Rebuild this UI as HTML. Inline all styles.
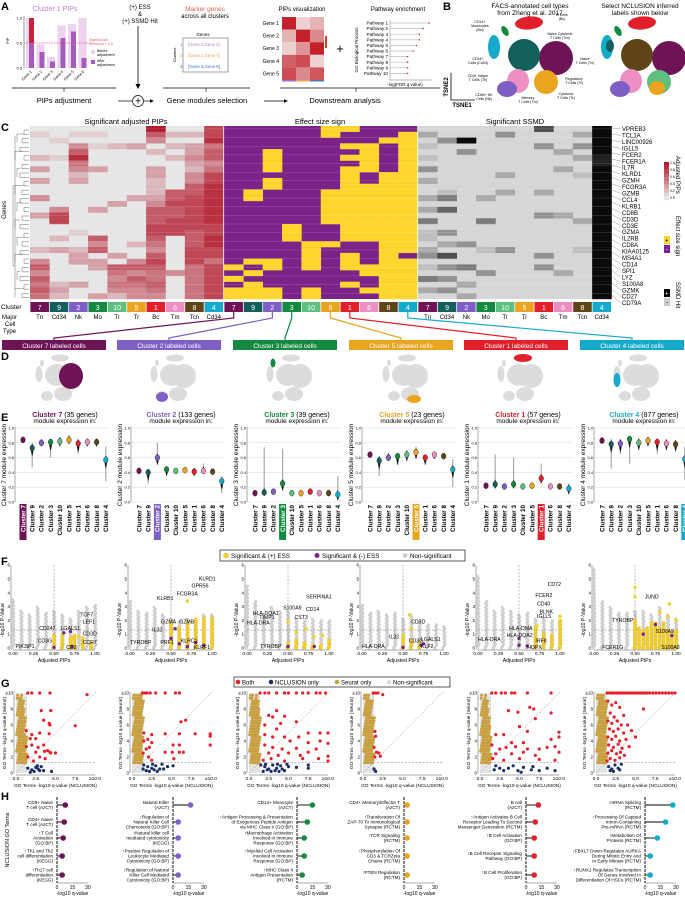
<!DOCTYPE html>
<html><head><meta charset="utf-8"><style>
html,body{margin:0;padding:0;background:#fff}
svg{display:block;font-family:"Liberation Sans",Arial,sans-serif}
</style></head><body>
<svg id="fig" width="685" height="900" viewBox="0 0 685 900" xmlns="http://www.w3.org/2000/svg">
<g font-weight="bold" font-size="11">
<text x="1" y="10">A</text>
<text x="443" y="10">B</text>
<text x="1" y="131">C</text>
<text x="1" y="360">D</text>
<text x="1" y="421">E</text>
<text x="1" y="565">F</text>
<text x="1" y="687">G</text>
<text x="1" y="800">H</text>
</g>
<g>
<text x="55" y="11" font-size="7" fill="#c77dd6" text-anchor="middle">Cluster 1 PIPs</text>
<text x="140" y="9" font-size="6" text-anchor="middle">(+) ESS</text>
<text x="140" y="16" font-size="6" text-anchor="middle">&amp;</text>
<text x="140" y="23" font-size="6" text-anchor="middle">(+) SSMD Hit</text>
<line x1="138" y1="26" x2="138" y2="86" stroke="#000" stroke-width="0.8"/>
<path d="M135.5,84 L138,89 L140.5,84Z"/>
<text x="205" y="11" font-size="6.5" fill="#f0604a" text-anchor="middle">Marker genes</text>
<text x="205" y="18" font-size="6" text-anchor="middle">across all clusters</text>
<text x="203" y="36" font-size="4.5" text-anchor="middle">Genes</text>
<rect x="183" y="38" width="45" height="34" fill="none" stroke="#666" stroke-width="0.6"/>
<text x="188" y="46" font-size="4.3" fill="#b07cd8">[Gene 1,Gene 5]</text>
<text x="188" y="57" font-size="4.3" fill="#f0a040">[Gene 2,Gene 4]</text>
<text x="188" y="68" font-size="4.3" fill="#3a6cc8">[Gene 3,Gene 5]</text>
<text x="180" y="46" font-size="4.5" fill="#b07cd8">1</text>
<text x="180" y="57" font-size="4.5" fill="#f0a040">2</text>
<text x="180" y="68" font-size="4.5" fill="#3a6cc8">3</text>
<text x="302" y="11" font-size="6" text-anchor="middle">PIPs visualization</text>
<text x="398" y="11" font-size="6" text-anchor="middle">Pathway enrichment</text>
<text x="340" y="53" font-size="13" text-anchor="middle">+</text>
<text transform="translate(358,50) rotate(-90)" font-size="4.5" text-anchor="middle">GO Biological Process</text>
<text x="405" y="86" font-size="4.5" text-anchor="middle">-log(FDR q value)</text>
<line x1="12" y1="88" x2="116" y2="88" stroke="#000" stroke-width="0.7"/>
<line x1="163" y1="88" x2="250" y2="88" stroke="#000" stroke-width="0.7"/>
<line x1="280" y1="88" x2="440" y2="88" stroke="#000" stroke-width="0.7"/>
<line x1="64" y1="88" x2="64" y2="92" stroke="#000" stroke-width="0.6"/>
<line x1="206" y1="88" x2="206" y2="92" stroke="#000" stroke-width="0.6"/>
<line x1="356" y1="88" x2="356" y2="92" stroke="#000" stroke-width="0.6"/>
<text x="64" y="103" font-size="7.5" text-anchor="middle">PIPs adjustment</text>
<line x1="118" y1="101" x2="132" y2="101" stroke="#000" stroke-width="0.7"/>
<circle cx="138" cy="101" r="5.5" fill="#fff" stroke="#000" stroke-width="0.7"/>
<text x="138" y="104.5" font-size="10" text-anchor="middle">+</text>
<line x1="144" y1="101" x2="151" y2="101" stroke="#000" stroke-width="0.7"/>
<path d="M150,99.3 L154,101 L150,102.7Z"/>
<text x="207" y="103" font-size="7.5" text-anchor="middle">Gene modules selection</text>
<line x1="264" y1="101" x2="285" y2="101" stroke="#000" stroke-width="0.7"/>
<path d="M284,99.3 L288,101 L284,102.7Z"/>
<text x="345" y="103" font-size="7.5" text-anchor="middle">Downstream analysis</text>
</g>
<g>
<text x="530" y="8" font-size="6.5" text-anchor="middle">FACS-annotated cell types</text>
<text x="530" y="15" font-size="6.5" text-anchor="middle">from Zheng et al. 2017</text>
<text x="640" y="8" font-size="6.5" text-anchor="middle">Select NCLUSION inferred</text>
<text x="640" y="15" font-size="6.5" text-anchor="middle">labels shown below</text>
<path d="M451,73 L451,100 L475,100" fill="none" stroke="#000" stroke-width="0.8"/>
<text transform="translate(448,87) rotate(-90)" font-size="6" font-weight="bold" text-anchor="middle">TSNE2</text>
<text x="462" y="107" font-size="6" font-weight="bold" text-anchor="middle">TSNE1</text>
</g>
<g>
<text x="126" y="124" font-size="7.5" text-anchor="middle">Significant adjusted PIPs</text>
<text x="320" y="124" font-size="7.5" text-anchor="middle">Effect size sign</text>
<text x="515" y="124" font-size="7.5" text-anchor="middle">Significant SSMD</text>
<text transform="translate(6,210) rotate(-90)" font-size="6" text-anchor="middle">Genes</text>
<text x="1" y="309" font-size="6.5">Cluster</text>
<text x="2" y="319" font-size="6">Major</text>
<text x="5" y="326" font-size="6">Cell</text>
<text x="3" y="333" font-size="6">Type</text>
<text transform="translate(676,156) rotate(90)" font-size="6">Adjusted PIPs</text>
<text transform="translate(676,216) rotate(90)" font-size="6">Effect size sign</text>
<text transform="translate(676,282) rotate(90)" font-size="6">SSMD Hit</text>
</g>
<g id="layer"></g>
</svg>
<script>
const NS='http://www.w3.org/2000/svg';
const layer=document.getElementById('layer');
function mk(tag,a,p){const e=document.createElementNS(NS,tag);for(const k in a)e.setAttribute(k,a[k]);(p||layer).appendChild(e);return e;}
function tx(s,a,p){const e=mk('text',a,p);e.textContent=s;return e;}

/* ---------- data ---------- */
const clusterOrder=[7,9,2,3,10,5,1,6,8,4];
const cellTypes=['Tn','Cd34','Nk','Mo','Tr','Tr','Bc','Tm','Tcn','Cd34'];
const clusterColor={7:'#6d1356',9:'#135f5b',2:'#7d5fc6',3:'#138a3f',10:'#5fbf80',5:'#eba420',1:'#e2202c',6:'#ee8fc3',8:'#5e4416',4:'#15aacb'};
const genesA=['Gene 1','Gene 2','Gene 3','Gene 4','Gene 5','Gene 6'];
const pipBefore=[1.0,0.47,0.22,0.85,0.88,1.0];
const pipAfter=[1.0,0.32,0.13,0.6,0.73,0.2];
const pipVisGenes=['Gene 1','Gene 2','Gene 3','Gene 4','Gene 5'];
const pipVisValues=[[0.95,0.1,0.25],[0.25,0.95,0.45],[0.1,0.4,0.95],[0.65,0.75,0.1],[0.75,0.45,0.7]];
const pathways=['Pathway 1','Pathway 2','Pathway 3','Pathway 4','Pathway 5','Pathway 6','Pathway 7','Pathway 8','Pathway 9','Pathway 10'];
const pathwayScores=[10,8.5,7.5,7.5,6.8,6,4.5,4.5,4.5,4.5];
const pipBands=["010002030300400300000204646565","001001000000004770020300000232","010468542300000000100233000300","010100030000003000064603300003","000200000000030000000030654542","000300000000300000002004646544","964020033222346667765467655654","020202000006676677700000040000","020334324466777777666777555555","778566457788888887788775777777"];
const essBands=["000000000000000000000000101011","000000000001100000000001010111","000011110110000000000001100011","000000000000000001110000000000","000000000000000000001111100011","110000000001111110001000000000","100101011111111111110011100100","000111110011111111110000110010","001000001111111111111111111111","011111111111111111111101111111"];
const ssmdBands=["020101030200202040110230104020","003000000001405000302060303030","009030000000000000003000400202","000000000000200040000100030000","030000002002000000000300000000","000000000000000000000000000000","600300000002000300000030300000","000020020000000200000000020000","020302001000000020000100000000","999998899999999999999999999999"];
const geneLabels=['VPREB3','TCL1A','LINC00926','IGLL5','FCER2','FCER1A','IL7R','KLRD1','GZMH','FCGR3A','GZMB','CCL4','KLRB1','CD8B','CD3D','CD3E','GZMA','IL2RB','CD8A','KIAA0125','MS4A1','CD14','SPI1','LYZ','S100A8','GZMK','CD27','CD79A'];
const focusClusters=[7,2,3,5,1,4];
const moduleSizes=[35,133,39,23,57,877];
const violinMedian=[[.84,.73,.80,.81,.82,.84,.79,.81,.81,.57],[.42,.40,.60,.44,.42,.43,.41,.42,.41,.28],[.12,.13,.14,.25,.12,.12,.14,.12,.12,.10],[.64,.56,.60,.62,.64,.67,.60,.64,.62,.44],[.22,.24,.21,.24,.21,.22,.32,.21,.21,.18],[.83,.78,.79,.85,.80,.83,.81,.79,.78,.58]];
const violinLow=[[.80,.47,.75,.60,.75,.78,.65,.75,.75,.28],[.40,.25,.50,.35,.38,.40,.35,.38,.38,.12],[.10,.08,.12,.15,.10,.10,.12,.10,.10,.02],[.60,.35,.55,.50,.55,.58,.50,.58,.58,.20],[.20,.18,.19,.18,.19,.19,.25,.19,.19,.10],[.80,.45,.65,.52,.70,.75,.65,.70,.68,.30]];
const violinHigh=[[.87,.80,.85,.85,.88,.90,.85,.86,.86,.75],[.45,.45,.80,.48,.46,.47,.46,.52,.45,.35],[.14,.74,.16,.72,.14,.14,.18,.14,.14,.35],[.67,.62,.66,.66,.70,.75,.64,.68,.66,.58],[.24,.64,.23,.60,.23,.24,.52,.23,.23,.25],[.86,.86,.85,.88,.86,.88,.86,.85,.84,.75]];
const grayPipX=[0,0.1,0.2,0.3,0.4,0.5,0.6,0.7,0.8,0.9,1.0];
const grayHeights=[[3.6,2.8,2.5,3.0,2.6,2.8,2.5,2.2,2.8,3.0,3.2],[3.4,2.8,2.6,3.0,2.4,2.2,2.0,2.2,2.0,2.5,2.5],[4.5,3.5,2.5,3.0,2.8,2.8,2.2,2.0,2.2,2.0,2.0],[3.2,2.6,2.8,2.5,2.6,2.2,2.4,2.0,1.8,1.8,1.6],[5.3,3.5,2.8,3.0,2.8,2.5,2.6,2.2,2.2,2.0,2.0],[5.8,3.5,3.0,2.6,2.6,2.8,2.8,2.5,3.0,2.5,2.2]];
const yellowColX=[[.5,.6,.7,.75,.85,.95],[.5,.6,.7,.8,.9,1.0],[.5,.6,.7,.8,.9,1.0],[.5,.6,.7],[.7,.8,.9,1.0],[.5,.55,.6,.65,.7,.75,.8,.85,.9,.95,1.0]];
const yellowColH=[[1,0.9,0.8,1.0,0.8,0.5],[1.8,1.6,1.8,2.0,2.2,2.2],[0.5,0.6,0.4,0.3,0.3,0.6],[1.0,0.6,0.4],[1.5,1.2,1.0,2.0],[2.0,1.6,1.4,1.6,1.8,1.8,1.6,1.8,1.4,1.2,1.4]];
const yellowExtra=[[[.72,.7],[.8,.85]],[[.7,3.4],[.8,2.1]],[[.5,1.9],[.6,1.1],[.72,1.4],[.82,.8],[.92,.9]],[[.58,2.4],[.6,1.4]],[[.72,1.6],[1.0,2.3]],[[.5,4.4],[.5,3.7],[.8,2.6],[.9,2.3],[.92,3.2],[1.0,2.0]]];
const purplePts=[[[.5,.05],[.62,1.1],[.7,1.2],[.72,.1]],[[.5,.7],[.55,1.4],[.6,.3],[.7,.1],[.8,.4],[.9,.2]],[[.5,.1],[.82,.1]],[[.5,.05],[.72,.2],[.75,.3]],[[.5,.7],[.5,.2],[.6,.15]],[[.6,1.0],[.75,1.7],[.95,.9]]];
const fLabels=[[['TCF7',.82,2.4],['LEF1',.85,1.9],['CD247',.32,1.4],['LGALS1',.58,1.4],['CD3D',.85,1.0],['CD3G',.3,.5],['CCR7',.85,.4],['PIK3IP1',.03,.1],['CD2',.65,.05]],[['KLRD1',.84,5.0],['GPR56',.75,4.5],['FCGR3A',.57,3.9],['KLRB1',.33,3.6],['GZMA',.38,1.9],['GZMB',.6,1.9],['IL32',.27,1.3],['TYROBP',.0,.4],['PRF1',.37,.4],['KLRC1',.62,.5],['KLRF1',.78,.05]],[['SERPINA1',.72,3.7],['S100A9',.44,2.9],['CD14',.72,2.8],['HLA-DQA1',.07,2.5],['TIMP1',.15,2.2],['CST3',.58,2.2],['HLA-DRA',.0,1.8],['TYROBP',.16,.1]],[['CD3D',.6,1.9],['IL32',.33,.8],['CD3G',.57,.5],['LGALS1',.72,.6],['HLA-DRA',.0,.1],['KLF2',.72,.1]],[['CD72',.85,4.6],['FCER2',.7,3.8],['CD40',.72,3.2],['BLNK',.75,2.6],['IGLL5',.72,2.3],['HLA-DMA',.38,1.4],['HLA-DQA2',.35,.9],['HLA-DRA',.0,.6],['IRF8',.7,.5],['HOPX',.6,.05]],[['JUND',.62,3.7],['TYROBP',.22,2.0],['S100A9',.75,1.2],['FCER1G',.1,.05],['S100A8',.82,.05]]];
const goldX=[0.2,0.45,0.7,0.95,1.2];
const goldH=[[10,9.5,10,8,5],[10,10,10,10,10],[10,10,9,10,8],[10,10,10,9,7],[10,9,10,8,6],[10,10,10,10,9]];
const redPts=[
[[1.5,10],[2,10],[3,10],[4.3,10],[9,9.8],[3.2,7.8],[4.4,7.8],[3.5,6.6],[4.2,6.2],[4.3,6],[7.5,5.9],[1.3,5.3],[2,4.8],[3,5],[4.2,4.9],[1.8,4.3],[2.5,4.3],[1.3,3.3],[2,3.5],[3.5,3.5],[2.8,3.2],[4,2.8],[2.5,2.6],[3.6,2.7],[4.4,2.5],[5,2.5],[1.5,2],[3,2],[3.7,1.8],[2.2,1.5],[4.3,2.6]],
[[1.3,10],[1.6,10],[1.9,10],[2.3,10],[3,10],[4.2,10],[5.5,10],[6,10],[6.2,6.4],[6.8,6.6],[1.5,5],[2.5,4.8],[4.2,4.9],[6,4.9],[8,4.9],[9.9,4.9],[9.9,4.6],[1.5,4],[2,4.2],[2.5,3.8],[5.2,3.5],[6,3.5],[9.9,3.5],[1.8,3],[2.2,3.2],[1.4,2.5],[4.2,2.6],[5.1,2.6],[6,2.6],[6.5,2.6],[2.1,2],[5.3,1.8],[2.5,1.6]],
[[1.4,10],[2,10],[2.5,10],[3.5,10],[4.5,10],[5,10],[6,10],[6.8,10],[7.5,10],[8.5,10],[9,10],[9.7,10],[3.5,7.8],[2.5,7.2],[3,7],[4.5,7.1],[6,6.4],[2,6],[4,6.2],[3.5,5.5],[7.5,5],[9,5],[10,5],[2,4.8],[3,4.5],[4.5,4.5],[6.3,4.5],[5.2,4],[7.5,3.8],[9,4],[10,3.7],[2,3.5],[3,3.2],[4.2,3],[6,3.1],[8.5,3],[2.5,2.5],[3.7,2.2],[5,2.5],[6.5,2.2],[7.5,2.6],[10,2.1],[1.8,1.6],[2.8,1.8],[4.5,1.5],[6.8,1.8],[8.8,1.8],[10,1.5]],
[[1.3,10],[1.6,10],[1.9,10],[2.5,9.8],[1.5,5.2],[1.6,4.6],[1.4,3.2],[1.7,2.6],[2,2.5],[1.5,2],[2.2,2.1]],
[[1.5,10],[2,10],[2.7,10],[3.2,10],[4,10],[4.4,10],[6,10],[9,10],[3.6,7.8],[4.8,7.6],[6.3,8.2],[6.8,8],[9,7.5],[5,5.8],[7,6.8],[2,4.8],[3,4.8],[6,5.2],[10,5.1],[10,4.5],[1.5,3.5],[4,3.8],[5.5,3.8],[7.5,3],[9,4.2],[2.5,3],[3.3,3.2],[4.5,3.3],[6,3],[8.5,3.2],[9.5,3.3],[2,2.4],[4,2.4],[5.5,2.6],[7,2.2],[10,2.6],[1.6,1.8],[3,1.6],[5,1.8],[7.5,1.7],[9.5,1.6]],
[[1.4,10],[1.7,10],[2,10],[2.3,10],[2.6,10],[2.9,10],[3.2,10],[3.5,10],[3.8,10],[4.1,10],[4.4,10],[4.7,10],[5,10],[5.3,10],[5.6,10],[5.9,10],[6.2,10],[6.5,10],[6.8,10],[7.2,10],[7.6,10],[8,10],[8.4,10],[8.8,10],[9.2,10],[9.6,10],[10,10],[1.5,9],[2,8.5],[2.5,8.8],[3,8.2],[1.8,7.5],[2.3,7],[3.5,7.2],[6,8],[1.5,6.5],[2,6.2],[2.7,6.5],[3.2,6],[4,6],[1.7,5.5],[2.2,5.2],[2.8,5.5],[3.5,5],[4.5,5.3],[1.5,4.5],[2,4.2],[2.5,4.6],[3,4],[3.8,4.2],[5,4.5],[1.6,3.5],[2.2,3.2],[2.8,3.6],[3.3,3.1],[4.2,3.3],[1.5,2.5],[2,2.8],[2.6,2.4],[3.1,2.6],[3.6,2.2],[1.8,1.8],[2.4,1.6],[3,1.9],[1.4,1.5]]];
const bluePts=[
[[1.5,.6],[2,.4],[2.5,.7],[2.8,.5],[3,.3],[2.3,.2],[3.2,.8],[1.8,.1],[4.5,.2],[2.7,.9],[3.5,.3]],
[[1.5,1],[2,.8],[2.5,.6],[3,.9],[3.5,.5],[1.8,.3],[2.2,.2],[2.8,.4],[3.2,.2],[4,.5],[4.5,.8],[5.2,.9],[1.4,.5],[3.8,1.1],[2.6,1.1]],
[[1.5,1],[2,.8],[2.5,.5],[3,1],[3.5,.6],[4,.9],[4.5,.3],[5,.8],[1.8,.2],[2.3,.4],[2.8,.2],[3.3,.3],[3.8,.2],[4.2,.5],[4.8,1.1],[6,.7],[7.5,1],[7.5,.6],[2.1,1.1],[3.6,1.1]],
[[1.6,.2],[1.4,.5]],
[[2,.9],[2.5,.6],[3,.3],[3.6,.6],[4.2,.9],[4.8,.3],[5.5,.7],[6.5,.4],[6.7,.8],[7.5,.3],[8.5,.6],[9.5,.3],[1.8,.4],[5.2,.1]],
[[1.6,.8],[2,.5],[2.4,1],[2.8,.6],[3.2,1.1],[2.2,.2],[1.8,.3],[3,.4]]];
const goTerms=[
[['CD8+ Naive','T cell (AzCT)'],['CD4+ Naive','T cell  (AzCT)'],['↑T Cell','Activation','(GO:BP)'],['↑Th1 and Th2','cell differentiation','(KEGG)'],['↑Th17 cell','differentiation','(KEGG)']],
[['Natural Killer','(AzCT)'],['↑Regulation of','Natural Killer Cell','Chemotaxis (GO:BP)'],['↑Natural killer cell','mediated cytotoxicity','(KEGG)'],['↑Positive Regulation of','Leukocyte Mediated','Cytotoxicity (GO:BP)'],['↑Regulation of Natural','Killer Cell Mediated','Cytotoxicity (GO:BP)']],
[['CD14+ Monocyte','(AzCT)'],['↑Antigen Processing & Presentation','of Exogenous Peptide Antigen','via MHC Class II (GO:BP)'],['↑Macrophage Activation','Involved in Immune','Response (GO:BP)'],['↑Myeloid Cell Activation','Involved in Immune','Response (GO:BP)'],['↑MHC Class II','Antigen Presentation','(RCTM)']],
[['CD4+ Memory/Effector T','(AzCT)'],['↑Translocation Of','ZAP-70 To Immunological','Synapse (RCTM)'],['↑TCR Signaling','(RCTM)'],['↑Phosphorylation Of','CD3 & TCRZeta','Chains (RCTM)'],['↑PTEN Regulation','(RCTM)']],
[['B cell','(AzCT)'],['↑Antigen Activates B Cell','Receptor Leading To Second','Messenger Generation (RCTM)'],['↑B Cell Activation','(GO:BP)'],['↑B Cell Receptor Signaling','Pathway (GO:BP)'],['↑B Cell Proliferation','(GO:BP)']],
[['↑mRNA Splicing','(RCTM)'],['↑Processing Of Capped','Intron-Containing','Pre-mRNA (RCTM)'],['↑Metabolism Of','Proteins (RCTM)'],['↑FBXL7 Down-Regulates AURKA','During Mitotic Entry And','In Early Mitosis (RCTM)'],['↑RUNX1 Regulates Transcription','Of Genes Involved In','Differentiation Of HSCs (RCTM)']]];
const goScores=[[8,7,6,5,5],[17,5,5,5,5],[15,10,7,7,5],[3,3,3,3,3],[12,9,8,8,8],[27,20,12,5,5]];

function mix(c1,c2,t){const a=[1,3,5].map(i=>parseInt(c1.substr(i,2),16)),b=[1,3,5].map(i=>parseInt(c2.substr(i,2),16));return 'rgb('+a.map((v,i)=>Math.round(v+(b[i]-v)*t)).join(',')+')';}

/* ---------- Panel A ---------- */
const ay=v=>68-v*50, ax=i=>26+i*10.5;
mk('line',{x1:24,y1:16,x2:24,y2:68,stroke:'#333','stroke-width':0.5});
[0,0.5,1].forEach(v=>{const t=tx(v.toFixed(1),{x:22,y:ay(v)+1.5,'font-size':4,'text-anchor':'end'});});
genesA.forEach((g,i)=>{
 const b=mk('rect',{x:ax(i),y:ay(pipBefore[i]),width:8,height:68-ay(pipBefore[i]),fill:'#eed3ef'});
 
 const v=pipAfter[i];
 const a=mk('rect',{x:ax(i)+3,y:ay(Math.min(v,0.5)),width:5,height:68-ay(Math.min(v,0.5)),fill:'#a45bbd'});
 
 if(v>0.5){const r=mk('rect',{x:ax(i)+3,y:ay(v),width:5,height:ay(0.5)-ay(v),fill:i===0?'#c8233a':'#a45bbd'});}
 const l=tx(g,{transform:`translate(${ax(i)+6},72) rotate(-45)`,'font-size':3.8,'text-anchor':'end'});
});
mk('line',{x1:24,y1:ay(0.5),x2:92,y2:ay(0.5),stroke:'#f05a6a','stroke-width':0.7,'stroke-dasharray':'1.5,1'});
tx('Significance',{x:89,y:41,'font-size':3.6,fill:'#f05a6a'});tx('threshold = 0.5',{x:89,y:45,'font-size':3.6,fill:'#f05a6a'});
mk('rect',{x:91,y:50,width:4,height:4,fill:'#eed3ef'});tx('Before',{x:97,y:52,'font-size':3.6});tx('adjustment',{x:97,y:56,'font-size':3.6});
mk('rect',{x:91,y:60,width:4,height:4,fill:'#a45bbd'});tx('After',{x:97,y:62,'font-size':3.6});tx('adjustment',{x:97,y:66,'font-size':3.6});
tx('PIP',{transform:'translate(9,44) rotate(-90)','font-size':4});
tx('Clusters',{transform:'translate(176,55) rotate(-90)','font-size':4,'text-anchor':'middle'});
pipVisGenes.forEach((g,r)=>{
 pipVisValues[r].forEach((v,c)=>{const e=mk('rect',{x:282+c*14,y:17+r*12.6,width:14,height:12.6,fill:mix('#f2e6e4','#c01822',v)});});
 const t=tx(g,{x:279,y:17+r*12.6+8,'font-size':5,'text-anchor':'end'});
});
['#9a74d0','#f0a050','#4a78c8'].forEach((c,i)=>mk('rect',{x:282+i*14,y:80,width:14,height:1.5,fill:c}));
mk('rect',{x:325,y:36,width:2,height:12,fill:'#d84030'});
const px=v=>390+v*3.9;
mk('line',{x1:390,y1:20,x2:390,y2:80,stroke:'#777','stroke-width':0.5});
mk('line',{x1:390,y1:80,x2:432,y2:80,stroke:'#777','stroke-width':0.5});
pathways.forEach((p,i)=>{
 const y=23+i*5.6;
 const t=tx(p,{x:388,y:y+1.6,'font-size':4.6,'text-anchor':'end'});
 const l=mk('line',{x1:390,y1:y,x2:px(pathwayScores[i]),y2:y,stroke:'#bbb','stroke-width':0.7});
 const d=mk('circle',{cx:px(pathwayScores[i]),cy:y,r:0.8,fill:'#e03030'});
});

/* ---------- Panel B ---------- */
function blob(cx,cy,rx,ry,fill,rot,name){const e=mk('ellipse',{cx,cy,rx,ry,fill,transform:`rotate(${rot||0},${cx},${cy})`});return e;}
[[0,'#135f5b'],[113,'#5e4416']].forEach(([dx,big],k)=>{
 blob(529+dx,23,14,6.5,'#e2202c',-5,'tsne-bcells');
 blob(505+dx,31,3,5.5,'#138a3f',-30,'tsne-monocytes');
 blob(556+dx,58,17,17,'#6d1356',0,'tsne-naive-t');
 blob(524+dx,55,16,16,big,0,'tsne-big-cluster');
 blob(518+dx,81,11,12,'#ee8fc3',0,'tsne-cd4-helper');
 blob(546+dx,82,12,12,k?'#5fbf80':'#eba420',0,'tsne-regulatory');
 if(k)blob(657,88,8,7,'#eba420',0,'tsne-cytotoxic');
 blob(494+dx,47,6,12,'#15aacb',0,'tsne-cd34');
 if(k)blob(610,46,4,6,'#135f5b',0,'tsne-cluster9');
 blob(507+dx,89,10,8,'#7d5fc6',0,'tsne-nk');
});
[['CD14+',480,23],['Monocytes',480,27],['(Mo)',480,31],['B Cells',562,16],['(Bc)',562,20],['Naive Cytotoxic',560,35],['T Cells (Tcn)',560,39],['Naive',585,60],['T Cells (Tn)',585,64],['CD34+',478,60],['Cells (Cd34)',478,64],['CD4+ Helper',478,77],['T Cells (Th)',478,81],['Regulatory',574,80],['T Cells (Tr)',574,84],['CD56+ NK',484,96],['Cells (Nk)',484,100],['Memory',528,99],['T Cells (Tm)',528,103],['Cytotoxic',566,95],['T Cells (Tc)',566,99]].forEach(([s,x,y])=>{const t=tx(s,{x,y,'font-size':3.6,'text-anchor':'middle'});});

/* ---------- Panel C ---------- */
const hx=[30,224,418], cw=19.35, hy0=126, hy1=299, nb=30, bh=(hy1-hy0)/nb;
mk('rect',{x:30,y:hy0,width:193.5,height:hy1-hy0,fill:'#e6e6e6'});mk('rect',{x:224,y:hy0,width:193.5,height:hy1-hy0,fill:'#7b2388'});mk('rect',{x:418,y:hy0,width:193.5,height:hy1-hy0,fill:'#d6d6d6'});
for(let c=0;c<10;c++){
 for(let r=0;r<nb;r++){
  const y=hy0+r*bh;
  const pv=+pipBands[c][r];
  if(pv>0){const e=mk('rect',{x:hx[0]+c*cw,y:y,width:cw+0.3,height:bh+0.2,fill:mix('#e6e6e6','#b2182b',pv/9)});}
  if(essBands[c][r]==='1'){const e=mk('rect',{x:hx[1]+c*cw,y:y,width:cw+0.3,height:bh+0.2,fill:'#fdd52c'});}
  const sv=+ssmdBands[c][r];
  if(sv>0){const e=mk('rect',{x:hx[2]+c*cw,y:y,width:cw+0.3,height:bh+0.2,fill:mix('#d6d6d6','#0a0a0a',sv/9)});}
 }
}
for(let r=0;r<nb*2;r++){if(r%3===1){mk('line',{x1:30,x2:612,y1:hy0+r*bh/2,y2:hy0+r*bh/2,stroke:'#fff','stroke-width':0.25,opacity:0.5});}}
[223.7,417.7].forEach(x=>mk('line',{x1:x,x2:x,y1:hy0,y2:hy1,stroke:'#fff','stroke-width':0.8}));
let dp='';for(let i=0;i<20;i++){const y=hy0+4+i*8.6;dp+=`M29,${y}H${24-(i%3)*2}V${y+4.3}H29 `;}
for(let i=0;i<10;i++){const y=hy0+8+i*17.2;dp+=`M${24-(i%3)*2},${y}H${17-(i%2)*2}V${y+8.6}`;}
dp+=`M15,${hy0+10}V${hy1-10}M13,${hy0+60}H15M13,${hy0+140}H15M13,${hy0+60}V${hy0+140}`;
const dn=mk('path',{d:dp,fill:'none',stroke:'#444','stroke-width':0.4});
for(let m=0;m<3;m++){
 clusterOrder.forEach((k,i)=>{
  const b=mk('rect',{x:hx[m]+i*cw+0.4,y:302,width:cw-0.8,height:10,fill:clusterColor[k]});
  const t=tx(String(k),{x:hx[m]+i*cw+cw/2,y:310,'font-size':7,fill:'#fff','text-anchor':'middle'});
  if(m!==1){const c=tx(cellTypes[i],{x:hx[m]+i*cw+cw/2,y:319,'font-size':6,'text-anchor':'middle'});}
 });
}
geneLabels.forEach((g,i)=>{const y=129+i*6.45;const t=tx(g,{x:622,y:y+2,'font-size':6});
 mk('line',{x1:612,y1:hy0+i*6.2+2,x2:621,y2:y,stroke:'#555','stroke-width':0.3});});
for(let i=0;i<10;i++)mk('rect',{x:664,y:162+i*3.8,width:5,height:3.9,fill:mix('#b2182b','#e6e6e6',i/9)});
['1.0','0.8','0.6','0.4','0.2','0.0'].forEach((s,i)=>tx(s,{x:670,y:164+i*7,'font-size':3.5}));
mk('rect',{x:664,y:236,width:6,height:8,fill:'#fdd52c'});tx('+',{x:665,y:242.5,'font-size':6});
mk('rect',{x:664,y:245,width:6,height:8,fill:'#7b2388'});tx('-',{x:666,y:251,'font-size':6,fill:'#fff'});
mk('rect',{x:664,y:289,width:6,height:8,fill:'#000'});tx('+',{x:665,y:295.5,'font-size':6,fill:'#fff'});
mk('rect',{x:664,y:298,width:6,height:8,fill:'#ccc'});tx('-',{x:666,y:304,'font-size':6});

/* ---------- Panel D ---------- */
const dBoxX=[2,117,233,349,464,580], dCols=[0,2,3,5,6,9];
focusClusters.forEach((k,i)=>{
 const col=clusterColor[k];
 const sx=hx[1]+dCols[i]*cw+cw/2;
 const ln=mk('path',{d:`M${sx},312 V318 L${dBoxX[i]+52},338 V340`,fill:'none',stroke:col,'stroke-width':1.2});
 const b=mk('rect',{x:dBoxX[i],y:340,width:104,height:10,fill:col});
 const t=tx(`Cluster ${k} labeled cells`,{x:dBoxX[i]+52,y:348,'font-size':6.5,fill:'#fff','text-anchor':'middle'});
 const cx=dBoxX[i]+58;
 const g=mk('g',{fill:'#dcdcdc'});
 mk('ellipse',{cx:cx,cy:358,rx:9,ry:3.5},g);mk('ellipse',{cx:cx-3,cy:375,rx:12,ry:11},g);mk('ellipse',{cx:cx+9,cy:376,rx:12,ry:12},g);
 mk('ellipse',{cx:cx-21,cy:374,rx:3.5,ry:8},g);mk('ellipse',{cx:cx-13,cy:396,rx:6,ry:5},g);mk('ellipse',{cx:cx+3,cy:394,rx:9,ry:7},g);mk('ellipse',{cx:cx-18,cy:363,rx:2,ry:3.5},g);
 const hl={7:[cx+11,376,12,13],2:[cx-13,397,6,5],3:[cx-18,363,2.5,4.5],5:[cx+7,399,7,4],1:[cx+1,358,9,4],4:[cx-21,380,3.5,7]}[k];
 const h=mk('ellipse',{cx:hl[0],cy:hl[1],rx:hl[2],ry:hl[3],fill:col});
});

/* ---------- Panel E ---------- */
const eX=[15,131,247,362,478,594];
focusClusters.forEach((k,p)=>{
 const x0=eX[p], ey=v=>502-v*74, ex=i=>x0+8+i*9.2;
 const col=clusterColor[k];
 const t1=tx('',{x:x0+50,y:417,'font-size':7,'text-anchor':'middle'});
 const s1=mk('tspan',{fill:col,'font-weight':'bold'},t1);s1.textContent=`Cluster ${k}`;const s2=mk('tspan',{},t1);s2.textContent=` (${moduleSizes[p]} genes)`;
 const t2=tx('module expression in:',{x:x0+50,y:423,'font-size':6.5,'text-anchor':'middle'});
 const yl=tx(`Cluster ${k} module expression`,{transform:`translate(${x0-9},465) rotate(-90)`,'font-size':6.5,'text-anchor':'middle'});
 [0,0.2,0.4,0.6,0.8,1.0].forEach(v=>{mk('line',{x1:x0,x2:x0+94,y1:ey(v),y2:ey(v),stroke:'#d8d8d8','stroke-width':0.5});const tl=tx(v.toFixed(1),{x:x0-1,y:ey(v)+1.5,'font-size':4,'text-anchor':'end'});});
 mk('line',{x1:x0,x2:x0,y1:ey(1.02),y2:ey(0),stroke:'#555','stroke-width':0.5});
 clusterOrder.forEach((c,i)=>{
  const m=violinMedian[p][i],lo=violinLow[p][i],hi=violinHigh[p][i];
  const w=mk('line',{x1:ex(i),x2:ex(i),y1:ey(hi),y2:ey(lo),stroke:'#aaa','stroke-width':1.2});
  const vlo=Math.max(lo,m-0.12), vhi=Math.min(hi,m+0.06);
  const vt=mk('path',{d:`M${ex(i)},${ey(vhi)} Q${ex(i)+2.6},${ey(m)} ${ex(i)},${ey(vlo)} Q${ex(i)-2.6},${ey(m)} ${ex(i)},${ey(vhi)}Z`,fill:'#111'});
  const d=mk('ellipse',{cx:ex(i),cy:ey(m),rx:2.3,ry:3,fill:clusterColor[c],stroke:'#111','stroke-width':0.4});
  if(c===k){const r=mk('rect',{x:ex(i)-3.5,y:504,width:7,height:36,fill:col});}
  const l=tx(`Cluster ${c}`,{transform:`translate(${ex(i)+2.3},505) rotate(-90)`,'font-size':6.3,'font-weight':'bold','text-anchor':'end',fill:c===k?'#fff':'#000'});
 });
});

/* ---------- Panel F ---------- */
const lg=mk('g',{});
mk('rect',{x:220,y:550,width:245,height:11,fill:'#fff',stroke:'#333','stroke-width':0.8},lg);
mk('circle',{cx:226,cy:555.5,r:2.5,fill:'#f4d12a',stroke:'#a08000','stroke-width':0.3},lg);tx('Significant & (+) ESS',{x:231,y:558,'font-size':6.3},lg);
mk('circle',{cx:317,cy:555.5,r:2.5,fill:'#7b2388'},lg);tx('Significant & (-) ESS',{x:322,y:558,'font-size':6.3},lg);
mk('circle',{cx:405,cy:555.5,r:2.5,fill:'#ccc'},lg);tx('Non-significant',{x:410,y:558,'font-size':6.3},lg);
const fX=[13,130,247,362,478,594];
focusClusters.forEach((k,p)=>{
 const x0=fX[p], fx=v=>x0+v*82, fy=v=>648-v*13.8;
 mk('line',{x1:x0-2,x2:x0-2,y1:fy(6),y2:fy(0),stroke:'#555','stroke-width':0.5});
 mk('line',{x1:x0,x2:x0+82,y1:fy(0)+2,y2:fy(0)+2,stroke:'#555','stroke-width':0.5});
 [0,1,2,3,4,5,6].forEach(v=>{const t=tx(String(v),{x:x0-3,y:fy(v)+1.5,'font-size':4.5,'text-anchor':'end'});});
 ['0.00','0.25','0.50','0.75','1.00'].forEach((s,i)=>{const t=tx(s,{x:fx(i*0.25),y:655,'font-size':4.8,'text-anchor':'middle'});});
 const xt=tx('Adjusted  PIPs',{x:x0+41,y:662,'font-size':5.2,'text-anchor':'middle'});
 const yt=tx('-log10 P-Value',{transform:`translate(${x0-9},620) rotate(-90)`,'font-size':5.2,'text-anchor':'middle'});
 grayPipX.forEach((gx,i)=>{for(let v=0;v<=grayHeights[p][i];v+=0.14){const d=mk('circle',{cx:fx(gx)+((v*7)%2-1),cy:fy(v),r:1.6,fill:'#cfcfcf'});}});
 mk('line',{x1:x0,x2:x0+82,y1:fy(1.3),y2:fy(1.3),stroke:'#777','stroke-width':0.5,'stroke-dasharray':'2,1.5'});
 mk('line',{x1:fx(0.5),x2:fx(0.5),y1:fy(6),y2:fy(0),stroke:'#777','stroke-width':0.5,'stroke-dasharray':'2,1.5'});
 yellowColX[p].forEach((yx,i)=>{for(let v=0;v<=yellowColH[p][i];v+=0.18){const d=mk('circle',{cx:fx(yx),cy:fy(v),r:1.7,fill:'#f4d12a',stroke:'#c8a000','stroke-width':0.2});}});
 yellowExtra[p].forEach(([a,b])=>{const d=mk('circle',{cx:fx(a),cy:fy(b),r:1.7,fill:'#f4d12a'});});
 purplePts[p].forEach(([a,b])=>{const d=mk('circle',{cx:fx(a),cy:fy(b),r:1.7,fill:'#7b2388'});});
 fLabels[p].forEach(([s,a,b])=>{const t=tx(s,{x:fx(a),y:fy(b)+1.5,'font-size':5.2});});
});

/* ---------- Panel G ---------- */
const gl=mk('g',{});
mk('rect',{x:234,y:677,width:216,height:10,fill:'#fff',stroke:'#333','stroke-width':0.8},gl);
[['Both','#e8202c',238],['NCLUSION only','#1b2f6a',271],['Seurat only','#c8a040',337],['Non-significant','#ddd',389]].forEach(([s,c,x])=>{mk('circle',{cx:x,cy:682,r:2.3,fill:c},gl);tx(s,{x:x+4,y:684.3,'font-size':6},gl);});
const gX=[16,132,249,363,480,596];
focusClusters.forEach((k,p)=>{
 const x0=gX[p], gx=v=>x0+v*7.9, gy=v=>773-v*8;
 mk('line',{x1:x0-2,x2:x0-2,y1:gy(10.2),y2:gy(0),stroke:'#555','stroke-width':0.5});
 mk('line',{x1:x0,x2:gx(10),y1:gy(0)+2,y2:gy(0)+2,stroke:'#555','stroke-width':0.5});
 [0,2,4,6,8,10].forEach(v=>{const t=tx(v===10?'≥10':String(v),{x:x0-3,y:gy(v)+1.5,'font-size':4.5,'text-anchor':'end'});});
 ['0.0','2.5','5.0','7.5','≥10.0'].forEach((s,i)=>{const t=tx(s,{x:gx(i*2.5),y:780,'font-size':4.8,'text-anchor':'middle'});});
 const xt=tx('GO Terms -log10  q-value  (NCLUSION)',{x:gx(5),y:787,'font-size':4.8,'text-anchor':'middle'});
 const yt=tx('GO Terms -log10 q-value  (Seurat)',{transform:`translate(${x0-10},733) rotate(-90)`,'font-size':4.8,'text-anchor':'middle'});
 mk('rect',{x:x0,y:gy(10),width:gx(1.3)-x0,height:gy(0)-gy(10),fill:'#e4e4e4'});
 mk('line',{x1:gx(0),y1:gy(0),x2:gx(10.2),y2:gy(10.2),stroke:'#888','stroke-width':0.5,'stroke-dasharray':'2,1.5'});
 mk('line',{x1:x0,x2:gx(10.2),y1:gy(1.3),y2:gy(1.3),stroke:'#aaa','stroke-width':0.7,'stroke-dasharray':'2,1.5'});
 mk('line',{x1:gx(1.3),x2:gx(1.3),y1:gy(10),y2:gy(0),stroke:'#aaa','stroke-width':0.7,'stroke-dasharray':'2,1.5'});
 goldX.forEach((x,i)=>{for(let v=1.3;v<=goldH[p][i];v+=0.35){const d=mk('circle',{cx:gx(x)+((v*10)%3-1),cy:gy(v),r:1.5,fill:'#c8a040'});}});
 redPts[p].forEach(([a,b])=>{const d=mk('circle',{cx:gx(a),cy:gy(b),r:1.6,fill:'#e8202c'});});
 bluePts[p].forEach(([a,b])=>{const d=mk('circle',{cx:gx(a),cy:gy(b),r:1.6,fill:'#1b2f6a'});});
});

/* ---------- Panel H ---------- */
const hYL=tx('NCLUSION GO Terms',{transform:'translate(9,840) rotate(-90)','font-size':5.5,'text-anchor':'middle'});
const hAx=[57,173,297,404,526,645], hRows=[805,822,838,856,875];
focusClusters.forEach((k,p)=>{
 const x0=hAx[p], hxs=v=>x0+v*1.03;
 mk('line',{x1:x0,x2:x0,y1:797,y2:883,stroke:'#555','stroke-width':1.4,'stroke-dasharray':'3,1'});
 mk('line',{x1:x0,x2:hxs(30),y1:883,y2:883,stroke:'#555','stroke-width':0.5});
 ['0','15','30'].forEach((s,i)=>{const t=tx(s,{x:hxs(i*15),y:889,'font-size':5,'text-anchor':'middle'});});
 const xt=tx('-log10 q-value',{x:hxs(15),y:895,'font-size':5,'text-anchor':'middle'});
 goTerms[p].forEach((lines,i)=>{
  const y=hRows[i],v=goScores[p][i];
  const st=mk('line',{x1:x0,x2:hxs(v),y1:y,y2:y,stroke:'#000','stroke-width':0.9});
  const d=mk('circle',{cx:hxs(v),cy:y,r:2.8,fill:clusterColor[k]});
  const n=lines.length, y0=y-(n-1)*2.6+1.5;
  lines.forEach((s,j)=>{const t=tx(s,{x:x0-4,y:y0+j*5.2,'font-size':4.6,'text-anchor':'end'});});
 });
});
</script>
</body></html>
